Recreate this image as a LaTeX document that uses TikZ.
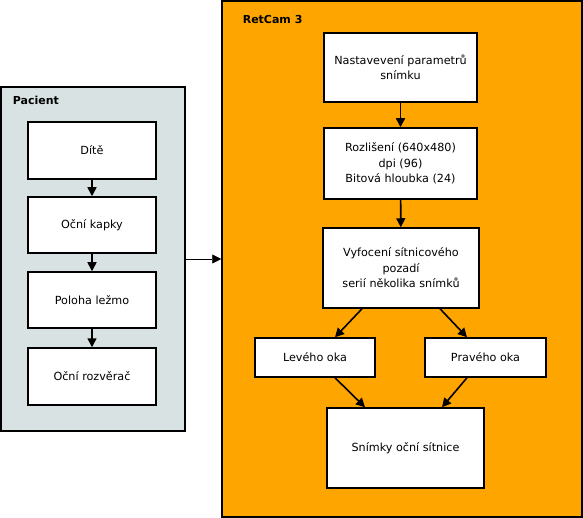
\documentclass[tikz,border=0pt]{standalone}
\usepackage{fontspec}
\setmainfont{DejaVu Sans}
\usepackage{tikz}
\usetikzlibrary{arrows, arrows.meta, positioning}
\definecolor{pacientbg}{RGB}{216,226,226}
\definecolor{retcambg}{RGB}{255,165,0}

\begin{document}
\begin{tikzpicture}[x=1pt, y=-1pt,
			->,
			>={Triangle[length=9pt, width=9pt]},
			line width=1.6pt,
			font=\fontsize{11.2}{15.5}\selectfont]
			\tikzset{panel/.style={draw=black, line width=1.5pt, inner sep=0pt},
				box/.style={draw=black, fill=white, line width=1.5pt, align=center, inner sep=0pt},
				title/.style={anchor=west, inner sep=0pt, font=\fontsize{11}{12}\selectfont\bfseries}}
			\useasboundingbox (0,0) rectangle (583,518);
			
			% panels
			\node[panel, fill=pacientbg, minimum width=184, minimum height=344] (pacient) at (93,259) {};
			\node[panel, fill=retcambg, minimum width=360, minimum height=516] (retcam) at (402,259) {};
			\node[title] (pacienttitle) at (12,100) {Pacient};
			\node[title] (retcamtitle) at (242,19) {RetCam 3};
			
			% pacient
			\node[box, minimum width=128, minimum height=57] (dite) at (92,150.5) {Dítě};
			\node[box, minimum width=128, minimum height=56] (kapky) at (92,225) {Oční kapky};
			\node[box, minimum width=128, minimum height=56] (poloha) at (92,300) {Poloha ležmo};
			\node[box, minimum width=128, minimum height=57] (rozverac) at (92,376.5) {Oční rozvěrač};
			
			% retcam
			\node[box, minimum width=153, minimum height=69] (nastaveni) at (400.5,67.5) {Nastavevení parametrů\\snímku};
			\node[box, minimum width=153, minimum height=71] (rozliseni) at (400.5,163.5) {Rozlišení (640x480)\\dpi (96)\\Bitová hloubka (24)};
			\node[box, minimum width=156, minimum height=80] (vyfoceni) at (401,268) {Vyfocení sítnicového\\pozadí\\serií několika snímků};
			\node[box, minimum width=120, minimum height=39] (leveho) at (315,357.5) {Levého oka};
			\node[box, minimum width=121, minimum height=39] (praveho) at (485.5,357.5) {Pravého oka};
			\node[box, minimum width=157, minimum height=80] (snimky) at (405.5,448) {Snímky oční sítnice};
			
			\draw (dite) -- (kapky);
			\draw (kapky) -- (poloha);
			\draw (poloha) -- (rozverac);
			\draw[line width=0.8pt] (pacient) -- (retcam);
			\draw (nastaveni) -- (rozliseni);
			\draw (rozliseni) -- (vyfoceni);
			\draw ([xshift=-39pt]vyfoceni.south) -- ([xshift=20pt]leveho.north);
			\draw ([xshift=39pt]vyfoceni.south) -- ([xshift=-18.5pt]praveho.north);
			\draw ([xshift=20pt]leveho.south) -- ([xshift=-40.5pt]snimky.north);
			\draw ([xshift=-18.5pt]praveho.south) -- ([xshift=36.5pt]snimky.north);
		\end{tikzpicture}
\end{document}
